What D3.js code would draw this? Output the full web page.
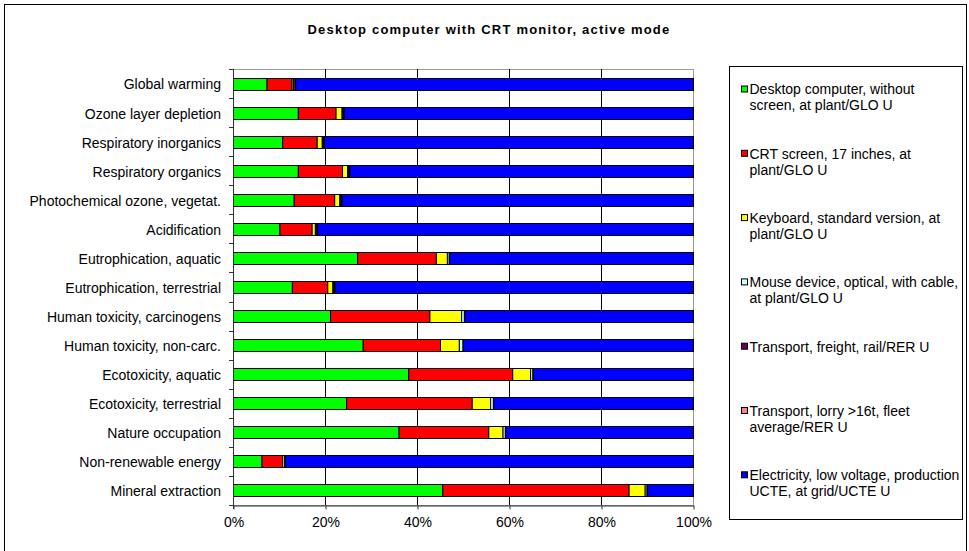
<!DOCTYPE html>
<html>
<head>
<meta charset="utf-8">
<script src="https://cdn.jsdelivr.net/npm/d3@7"></script>
<style>
  body { margin: 0; background: #fff; }
  svg { font-family: "Liberation Sans", Arial, sans-serif; }
</style>
</head>
<body>
<div id="plot"></div>
<script>
// impact categories, top to bottom
const categories = [
  "Global warming", "Ozone layer depletion", "Respiratory inorganics",
  "Respiratory organics", "Photochemical ozone, vegetat.", "Acidification",
  "Eutrophication, aquatic", "Eutrophication, terrestrial",
  "Human toxicity, carcinogens", "Human toxicity, non-carc.",
  "Ecotoxicity, aquatic", "Ecotoxicity, terrestrial", "Nature occupation",
  "Non-renewable energy", "Mineral extraction"
];

// legend labels, already split into the lines the original shows
const seriesLabels = [
  ["Desktop computer, without", "screen, at plant/GLO U"],
  ["CRT screen, 17 inches, at", "plant/GLO U"],
  ["Keyboard, standard version, at", "plant/GLO U"],
  ["Mouse device, optical, with cable,", "at plant/GLO U"],
  ["Transport, freight, rail/RER U"],
  ["Transport, lorry >16t, fleet", "average/RER U"],
  ["Electricity, low voltage, production", "UCTE, at grid/UCTE U"]
];
const seriesColors = ["#00ff00", "#ff0000", "#ffff00", "#ccffff", "#660066", "#ff8080", "#0000ff"];

// shares in % per category (same order as categories)
const desktop     = [7.3, 14.1, 10.7, 14.1, 13.2, 10.1, 27.0, 12.8, 21.1, 28.2, 38.1, 24.6, 36.0, 6.2, 45.5];
const crtScreen   = [5.4, 8.2, 7.5, 9.6, 8.8, 7.0, 17.1, 7.7, 21.6, 16.8, 22.6, 27.3, 19.5, 4.5, 40.5];
const keyboard    = [0.3, 1.3, 1.1, 1.1, 1.1, 0.7, 2.4, 1.1, 6.9, 4.1, 3.9, 4.0, 3.1, 0.4, 3.5];
const mouse       = [0.1, 0.2, 0.2, 0.2, 0.2, 0.2, 0.4, 0.2, 0.6, 0.8, 0.5, 0.6, 0.5, 0.1, 0.4];
const rail        = [0.1, 0.1, 0.1, 0.1, 0.1, 0.1, 0.0, 0.1, 0.0, 0.0, 0.0, 0.0, 0.0, 0.0, 0.0];
const lorry       = [0.3, 0.2, 0.2, 0.2, 0.2, 0.2, 0.1, 0.2, 0.1, 0.1, 0.1, 0.1, 0.1, 0.1, 0.1];
const electricity = [86.5, 75.9, 80.2, 74.7, 76.4, 81.7, 53.0, 77.9, 49.7, 50.0, 34.8, 43.4, 40.8, 88.7, 10.0];

const xTicks = [0, 0.2, 0.4, 0.6, 0.8, 1];

const seriesValues = [desktop, crtScreen, keyboard, mouse, rail, lorry, electricity];
const keys = seriesLabels.map((d, i) => "s" + i);
const rows = categories.map((c, j) => {
  const r = { cat: c };
  keys.forEach((k, i) => r[k] = seriesValues[i][j]);
  return r;
});

const W = 969, H = 551;
const plot = { left: 233, right: 693, top: 69, bottom: 505 };

const svg = d3.select("#plot").append("svg")
    .attr("width", W)
    .attr("height", H);

// outer chart border
svg.append("rect")
    .attr("x", 4.5).attr("y", 4.5)
    .attr("width", 962).attr("height", 580)
    .attr("fill", "#fff")
    .attr("stroke", "#000");

// title
svg.append("text")
    .attr("x", 489).attr("y", 34)
    .attr("text-anchor", "middle")
    .attr("font-size", "13px")
    .attr("font-weight", "bold")
    .attr("letter-spacing", "1.2px")
    .text("Desktop computer with CRT monitor, active mode");

const x = d3.scaleLinear().domain([0, 1]).range([plot.left, plot.right]);
const y = d3.scaleBand().domain(categories).range([plot.top, plot.bottom]);
const barH = 12;

// plot area frame
svg.append("rect")
    .attr("x", plot.left + 0.5).attr("y", plot.top + 0.5)
    .attr("width", plot.right - plot.left).attr("height", plot.bottom - plot.top)
    .attr("fill", "#fff")
    .attr("stroke", "#999");

// vertical gridlines
svg.append("g")
  .selectAll("line")
  .data(xTicks.slice(1, -1))
  .enter().append("line")
    .attr("x1", d => Math.round(x(d)) + 0.5)
    .attr("x2", d => Math.round(x(d)) + 0.5)
    .attr("y1", plot.top)
    .attr("y2", plot.bottom)
    .attr("stroke", "#000");

// stacked bars
const stack = d3.stack().keys(keys).offset(d3.stackOffsetExpand);
const layers = stack(rows);

svg.append("g")
  .selectAll("g")
  .data(layers)
  .enter().append("g")
    .attr("fill", (d, i) => seriesColors[i])
  .selectAll("rect")
  .data(d => d)
  .enter().append("rect")
    .attr("x", d => x(d[0]) + 0.5)
    .attr("y", d => Math.round(y(d.data.cat) + y.bandwidth() / 2 - barH / 2) + 0.5)
    .attr("width", d => Math.max(0, x(d[1]) - x(d[0])))
    .attr("height", barH)
    .attr("stroke", "#000")
    .attr("stroke-width", 1);

// x axis
const xAxis = svg.append("g")
    .attr("transform", `translate(0.5,${plot.bottom + 0.5})`)
    .call(d3.axisBottom(x).tickValues(xTicks).tickFormat(d3.format(".0%")).tickSize(4).tickSizeOuter(0));
xAxis.select(".domain").attr("stroke", "#333");
xAxis.selectAll(".tick line").attr("stroke", "#333");
xAxis.selectAll("text")
    .attr("font-family", "Liberation Sans, Arial, sans-serif")
    .attr("font-size", "14px")
    .attr("fill", "#000")
    .attr("dy", "1.0em");

// y axis: line plus ticks at band boundaries
const yAxis = svg.append("g");
yAxis.append("line")
    .attr("x1", plot.left + 0.5).attr("x2", plot.left + 0.5)
    .attr("y1", plot.top).attr("y2", plot.bottom + 4)
    .attr("stroke", "#333");
yAxis.selectAll(".ytick")
  .data(categories.concat(["end"]))
  .enter().append("line")
    .attr("x1", plot.left - 4).attr("x2", plot.left)
    .attr("y1", (d, i) => Math.round(plot.top + i * y.step()) + 0.5)
    .attr("y2", (d, i) => Math.round(plot.top + i * y.step()) + 0.5)
    .attr("stroke", "#333");
yAxis.selectAll(".ylabel")
  .data(categories)
  .enter().append("text")
    .attr("x", 221)
    .attr("y", d => y(d) + y.bandwidth() / 2 + 1)
    .attr("dy", "0.35em")
    .attr("text-anchor", "end")
    .attr("font-size", "14px")
    .text(d => d);

// legend
const legendBox = { x: 729, y: 66, w: 233, h: 453 };
svg.append("rect")
    .attr("x", legendBox.x + 0.5).attr("y", legendBox.y + 0.5)
    .attr("width", legendBox.w).attr("height", legendBox.h)
    .attr("fill", "#fff")
    .attr("stroke", "#000");

const legend = svg.selectAll(".legend")
    .data(seriesLabels)
  .enter().append("g")
    .attr("class", "legend")
    .attr("transform", (d, i) => `translate(0,${89.5 + i * 64.3})`);

legend.append("rect")
    .attr("x", 741.5).attr("y", -3.5)
    .attr("width", 6).attr("height", 6)
    .attr("fill", (d, i) => seriesColors[i])
    .attr("stroke", "#000");

legend.selectAll("text")
    .data(d => d)
  .enter().append("text")
    .attr("x", 749.5)
    .attr("y", (d, i) => i * 16)
    .attr("dy", "0.35em")
    .attr("font-size", "14px")
    .text(d => d);
</script>
</body>
</html>
